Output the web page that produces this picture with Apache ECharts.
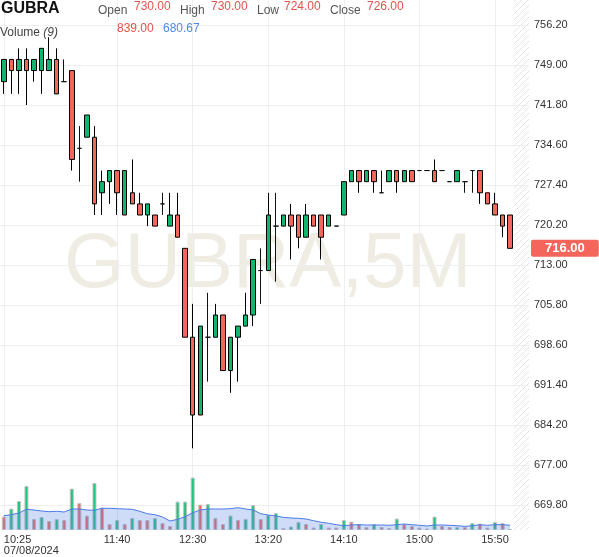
<!DOCTYPE html>
<html>
<head>
<meta charset="utf-8">
<title>GUBRA 5M</title>
<script src="https://cdn.jsdelivr.net/npm/echarts@6/dist/echarts.min.js"></script>
<style>
  html, body { margin: 0; padding: 0; background: #fff; }
  #main { width: 599px; height: 557px; }
</style>
</head>
<body>
<div id="main"></div>
<script>
// 5 minute bars
var times = [
  '10:25', '10:30', '10:35', '10:40', '10:45', '10:50', '10:55', '11:00', '11:05', '11:10',
  '11:15', '11:20', '11:25', '11:30', '11:35', '11:40', '11:45', '11:50', '11:55', '12:00',
  '12:05', '12:10', '12:15', '12:20', '12:25', '12:30', '12:35', '12:40', '12:45', '12:50',
  '12:55', '13:00', '13:05', '13:10', '13:15', '13:20', '13:25', '13:30', '13:35', '13:40',
  '13:45', '13:50', '13:55', '14:00', '14:05', '14:10', '14:15', '14:20', '14:25', '14:30',
  '14:35', '14:40', '14:45', '14:50', '14:55', '15:00', '15:05', '15:10', '15:15', '15:20',
  '15:25', '15:30', '15:35', '15:40', '15:45', '15:50', '15:55', '16:00', '16:05', '16:10'
]
var dateLabel = '07/08/2024'
var labelIndexes = [0, 15, 25, 35, 45, 55, 65]

var opens = [
  746, 750, 748, 750, 748, 748, 748, 750, 746, 748,
  734, 736, 736, 726, 728, 730, 722, 726, 724, 722,
  722, 724, 720, 722, 716, 700, 686, 700, 700, 704,
  694, 700, 702, 704, 712, 712, 720, 720, 722, 722,
  718, 722, 722, 720, 720, 722, 728, 730, 728, 730,
  726, 728, 730, 728, 730, 730, 730, 730, 730, 728,
  728, 728, 730, 730, 726, 724, 722, 722
]
var closes = [
  750, 748, 750, 748, 750, 752, 750, 743.8, 746, 732,
  734, 740, 724, 728, 730, 726, 730, 724, 722, 724,
  720, 724, 722, 718, 700, 686, 702, 700, 704, 694,
  700, 702, 704, 714, 712, 722, 720, 722, 720, 718,
  722, 720, 718, 722, 720, 728, 730, 728, 730, 728,
  726, 730, 728, 730, 728, 730, 730, 728, 730, 728,
  730, 728, 730, 726, 724, 722, 720, 716
]
var lows = [
  743.8, 743.8, 743.8, 741.8, 746, 743.8, 748, 743.8, 746, 730,
  728, 736, 722, 722, 724, 722, 722, 724, 722, 720,
  720, 722, 720, 718, 700, 680, 686, 692, 700, 694,
  690, 692, 702, 702, 706, 712, 710, 720, 714, 716,
  718, 720, 714, 720, 720, 722, 728, 726, 728, 726,
  726, 728, 726, 728, 728, 730, 730, 728, 730, 728,
  728, 726, 726, 724, 724, 722, 718, 716
]
var highs = [
  750, 750, 752, 752, 750, 752, 754, 752, 750, 748,
  738, 740, 738, 730, 730, 730, 730, 732, 726, 724,
  722, 726, 726, 726, 716, 706, 702, 708, 706, 704,
  700, 702, 708, 714, 716, 726, 726, 722, 724, 722,
  724, 722, 722, 722, 720, 728, 730, 730, 730, 730,
  730, 730, 730, 730, 730, 730, 730, 732, 730, 728,
  730, 728, 730, 730, 726, 726, 722, 722
]

var volumes = [
  1740, 2780, 3770, 5720, 1430, 1690, 1170, 1430, 1300, 5380,
  3510, 1870, 6110, 2910, 780, 1300, 780, 1560, 1300, 1300,
  1560, 910, 520, 3690, 3690, 6810, 3300, 3380, 1560, 780,
  1870, 1300, 1430, 3250, 1430, 1950, 2210, 260, 455, 1040,
  780, 325, 780, 325, 325, 1300, 1090, 780, 390, 780,
  390, 260, 1480, 780, 520, 325, 195, 1740, 520, 390,
  390, 390, 910, 839, 325, 1040, 910, 130
]
// 1 = green volume bar, 0 = red
var volumeUp = [
  0, 1, 1, 1, 0, 1, 0, 1, 0, 1,
  0, 0, 1, 0, 0, 1, 0, 1, 0, 0,
  1, 0, 0, 1, 1, 1, 0, 1, 0, 0,
  1, 0, 1, 1, 0, 1, 1, 0, 1, 1,
  0, 0, 1, 0, 0, 1, 0, 0, 0, 1,
  0, 0, 1, 0, 0, 0, 0, 1, 0, 0,
  1, 0, 1, 0, 0, 1, 0, 0
]
var volumeMA = [
  1860, 1990, 2210, 2690, 2600, 2470, 2380, 2430, 2340, 2730,
  2730, 2600, 2560, 2820, 2820, 2770, 2730, 2690, 2430, 2120,
  1990, 1690, 1170, 1390, 1730, 2250, 2600, 2730, 2730, 2730,
  2770, 2900, 2730, 2600, 2120, 1950, 1820, 1650, 1560, 1520,
  1430, 1210, 1000, 870, 690, 560, 650, 690, 650, 650,
  650, 610, 690, 780, 690, 610, 520, 650, 650, 610,
  560, 480, 560, 680.67, 610, 690, 690, 610
]

// bar shown in the header
var hoverIndex = 63
var yMin = 669.8
var yStep = 7.2

var upColor = '#12b56d'
var downColor = '#f3675b'
var volUpColor = '#1cc47c'
var volDownColor = '#f2695e'
var valueRed = '#e0534b'

var candleData = []
for (var i = 0; i < opens.length; i++) {
  candleData.push([opens[i], closes[i], lows[i], highs[i]])
}
var volumeData = volumes.map(function (v, i) {
  return { value: v, itemStyle: { color: volumeUp[i] ? volUpColor : volDownColor } }
})

function showLabel (index) {
  return labelIndexes.indexOf(index) >= 0
}

// hatch pattern for the empty future strip
var hatch = document.createElement('canvas')
hatch.width = 6
hatch.height = 6
var hctx = hatch.getContext('2d')
hctx.strokeStyle = '#e4e4e4'
hctx.lineWidth = 1
hctx.beginPath()
hctx.moveTo(0, 6)
hctx.lineTo(6, 0)
hctx.stroke()

var font = 'Liberation Sans, Arial, sans-serif'

function headerText (id, x, y, text, color, size, weight) {
  return {
    type: 'text', id: id, x: x, y: y, z: 100, silent: true,
    style: { text: text, fill: color, font: (weight || 'normal') + ' ' + size + 'px ' + font }
  }
}

var graphics = [
  {
    type: 'text', id: 'wm', x: 64, y: 226, z: -1, silent: true,
    style: { text: 'GUBRA,5M', fill: 'rgba(205,196,168,0.32)', font: 'normal 78px ' + font }
  },
  headerText('title', 1, 1, 'GUBRA', '#111', 16, 'bold'),
  headerText('lo', 98, 4.5, 'Open', '#555', 12),
  headerText('vo', 134, 1, opens[hoverIndex].toFixed(2), valueRed, 12),
  headerText('lh', 180, 4.5, 'High', '#555', 12),
  headerText('vh', 211, 1, highs[hoverIndex].toFixed(2), valueRed, 12),
  headerText('ll', 257, 4.5, 'Low', '#555', 12),
  headerText('vl', 284, 1, lows[hoverIndex].toFixed(2), valueRed, 12),
  headerText('lc', 330, 4.5, 'Close', '#555', 12),
  headerText('vc', 367, 1, closes[hoverIndex].toFixed(2), valueRed, 12),
  {
    type: 'text', id: 'vlab', x: 0, y: 27, z: 100, silent: true,
    style: {
      text: '{a|Volume }{b|(9)}',
      rich: {
        a: { fill: '#444', font: 'normal 12px ' + font },
        b: { fill: '#444', font: 'italic 12px ' + font }
      }
    }
  },
  headerText('vv', 117, 23, volumes[hoverIndex].toFixed(2), valueRed, 12),
  headerText('vma', 163, 23, volumeMA[hoverIndex].toFixed(2), '#4a8ce6', 12)
]

var option = {
  animation: false,
  backgroundColor: '#fff',
  grid: [
    { left: -1.8, right: 70, top: 0, bottom: 52 },
    { left: -1.8, right: 70, top: 0, bottom: 27 }
  ],
  xAxis: [
    {
      type: 'category', data: times, gridIndex: 0, boundaryGap: true,
      axisLine: { show: false }, axisTick: { show: false }, axisLabel: { show: false }, splitLine: { show: false }
    },
    {
      type: 'category', data: times, gridIndex: 1, boundaryGap: true,
      axisLine: { show: false }, axisTick: { show: false },
      axisLabel: {
        interval: showLabel,
        alignMinLabel: 'left',
        fontSize: 11, lineHeight: 11, color: '#333', margin: 4, fontFamily: font,
        formatter: function (value, index) {
          return index === 0 ? value + '\n' + dateLabel : value
        }
      },
      splitLine: { show: true, interval: showLabel, alignWithLabel: true, lineStyle: { color: '#eeeeee' } }
    }
  ],
  yAxis: [
    {
      type: 'value', gridIndex: 0, position: 'right', scale: true,
      min: yMin, max: 760.7, interval: yStep,
      axisLine: { show: false }, axisTick: { show: false },
      axisLabel: {
        showMaxLabel: false, fontSize: 11, color: '#333', margin: 5, fontFamily: font,
        formatter: function (v) { return v.toFixed(2) }
      },
      splitLine: { showMaxLine: false, lineStyle: { color: '#eeeeee' } }
    },
    {
      type: 'value', gridIndex: 1, min: 0, max: 68900, show: false, splitLine: { show: false }
    }
  ],
  series: [
    {
      name: 'Volume', type: 'bar', xAxisIndex: 1, yAxisIndex: 1, z: 1,
      barWidth: 4, data: volumeData,
      itemStyle: { borderColor: '#c2c2c2', borderWidth: 1 }
    },
    {
      name: 'MA9', type: 'line', xAxisIndex: 1, yAxisIndex: 1, z: 2,
      data: volumeMA, symbol: 'none', smooth: false,
      lineStyle: { color: '#4a7be6', width: 1 },
      areaStyle: { color: 'rgba(80,130,230,0.4)' }
    },
    {
      name: 'GUBRA', type: 'candlestick', xAxisIndex: 0, yAxisIndex: 0, z: 3,
      barWidth: 5, data: candleData,
      itemStyle: {
        color: upColor, color0: downColor,
        borderColor: '#000', borderColor0: '#000', borderColorDoji: '#111', borderWidth: 1
      },
      markLine: {
        silent: true, symbol: ['none', 'none'],
        lineStyle: { color: 'rgba(0,0,0,0)', width: 0, type: 'solid' },
        data: [{ yAxis: closes[closes.length - 1] }],
        label: {
          show: true, position: 'end', distance: 2,
          formatter: function (p) { return p.value.toFixed(2) },
          color: '#fff', fontSize: 13, fontWeight: 'bold', fontFamily: font,
          backgroundColor: '#f4665c', padding: [2, 14, 2, 14], borderRadius: 2
        }
      }
    }
  ],
  graphic: graphics
}

var chart = echarts.init(document.getElementById('main'), null, { renderer: 'canvas' })
chart.setOption(option)

// hatched strip right of the last bar, placed from the axis scale
var x0 = chart.convertToPixel({ xAxisIndex: 1 }, times[0])
var x1 = chart.convertToPixel({ xAxisIndex: 1 }, times[1])
var band = x1 - x0
var lastX = chart.convertToPixel({ xAxisIndex: 1 }, times[opens.length - 1])
var endX = chart.convertToPixel({ xAxisIndex: 1 }, times[times.length - 1])
var baseY = chart.convertToPixel({ yAxisIndex: 1 }, 0)
chart.setOption({
  graphic: [{
    type: 'rect', id: 'hatch', z: -2, silent: true,
    shape: { x: lastX + band / 2, y: 0, width: endX - lastX, height: baseY },
    style: { fill: { image: hatch, repeat: 'repeat' } }
  }]
})
</script>
</body>
</html>
